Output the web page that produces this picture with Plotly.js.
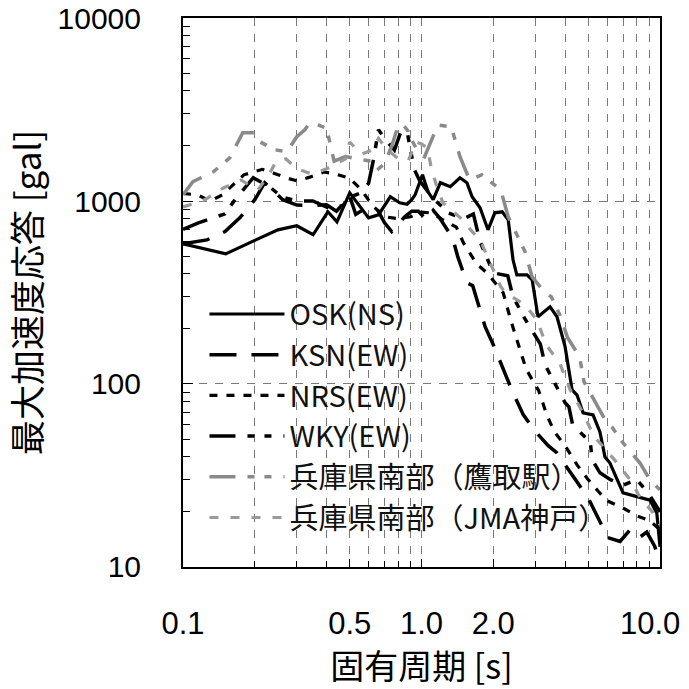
<!DOCTYPE html>
<html>
<head>
<meta charset="utf-8">
<script src="https://cdn.plot.ly/plotly-3.0.1.min.js"></script>
<style>
  html, body { margin: 0; padding: 0; background: #ffffff; }
  #chart { width: 689px; height: 689px; }
</style>
</head>
<body>
<div id="chart"></div>
<script>
// Acceleration response spectra: natural period [s] vs peak response acceleration [gal]

const seriesNames = ['OSK(NS)', 'KSN(EW)', 'NRS(EW)', 'WKY(EW)', '兵庫県南部（鷹取駅）', '兵庫県南部（JMA神戸）'];

const periodOSK = [0.1,0.151,0.202,0.25,0.30,0.351,0.405,0.442,0.50,0.60,0.66,0.74,0.81,0.87,0.91,0.94,1.01,1.065,1.12,1.20,1.32,1.45,1.55,1.63,1.76,1.90,2.03,2.18,2.31,2.42,2.51,2.77,2.91,3.08,3.46,3.70,4.00,4.28,4.49,4.76,5.24,5.60,5.88,6.17,7.0,8.25,9.08,9.7,10];
const accOSK    = [583,514,613,696,732,654,873,770,1109,809,841,1055,977,960,1016,1081,1390,1122,1016,1259,1197,1340,1259,1055,918,696,862,873,789,477,395,395,371,233,264,233,160,93,87,69.5,67.8,54.7,39.9,37,25.4,24.1,23.2,19.7,12.9];

const periodKSN = [0.1,0.126,0.15,0.173,0.2,0.22,0.262,0.30,0.35,0.40,0.44,0.50,0.53,0.58,0.65,0.70,0.75,0.85,0.91,0.97,1.05,1.12,1.19,1.35,1.42,1.55,1.64,1.85,2.0,2.22,2.39,2.67,3.0,3.4,3.7,4.2,4.6,5.0,5.75,6.0,6.8,7.5,8.2,8.8,9.5,10];
const accKSN    = [583,613,680,809,1016,1259,1016,950,945,955,880,1060,845,910,910,760,680,820,880,880,790,890,809,629,495,357,344,205,164,116,93,68,55,46,42,33,28,23.8,16.5,14.5,13.8,16,14.5,15.5,13,10.5];

const periodNRS = [0.1,0.115,0.13,0.146,0.18,0.215,0.24,0.275,0.3,0.34,0.39,0.44,0.5,0.56,0.62,0.7,0.8,0.9,1.0,1.1,1.25,1.4,1.5,1.7,1.9,2.2,2.38,2.55,2.75,3.1,3.35,3.6,4.0,4.5,5.0,5.5,6.0,7.0,8.0,9.0,10];
const accNRS    = [1100,1080,1000,1080,1390,1490,1420,1330,1290,1350,1440,1400,1330,1150,950,820,800,820,870,860,780,720,590,455,400,315,218,163,120,92,68,55,46,36,30,26,23,21,19,18,16];

const periodWKY = [0.1,0.116,0.15,0.165,0.197,0.23,0.26,0.3,0.35,0.42,0.47,0.5,0.55,0.6,0.63,0.66,0.72,0.77,0.82,0.87,0.9,0.93,0.98,1.05,1.15,1.3,1.5,1.65,1.76,2.0,2.3,2.42,2.7,3.08,3.15,3.3,3.7,4.0,4.15,4.3,5.1,5.2,5.6,6.2,7.0,8.0,9.0,10];
const accWKY    = [700,760,851,1016,1340,1200,1050,1000,1000,900,950,1050,1100,1250,1700,2450,2100,1900,2400,2400,1900,1500,1300,1150,1000,860,800,850,600,405,390,300,230,175,165,127,96,79,75,60,48,38.5,32.7,30,28,30,25,20];

const periodTakatori = [0.1,0.11,0.134,0.14,0.157,0.178,0.2,0.21,0.243,0.273,0.30,0.324,0.34,0.37,0.40,0.43,0.48,0.56,0.62,0.66,0.7,0.75,0.8,0.84,0.88,0.92,0.98,1.03,1.17,1.3,1.35,1.45,1.59,1.79,2.15,2.31,2.45,2.72,2.91,3.3,3.5,3.8,4.1,4.6,4.8,5.5,6.0,6.3,7.0,8.25,9.08,10];
const accTakatori    = [1081,1274,1445,1520,1720,2360,2360,2107,1905,1860,2244,2450,2680,2600,2500,1650,1750,1680,1650,1500,1600,2000,2600,2600,2400,2100,1800,1745,2600,2550,2400,1745,1306,1390,1150,820,696,527,385,315,300,239,179,141,103,75,61,58,47.6,37,29.9,26.4];

const periodJMA = [0.1,0.12,0.127,0.147,0.175,0.206,0.23,0.245,0.27,0.3,0.35,0.4,0.48,0.5,0.56,0.62,0.66,0.72,0.8,0.88,0.95,1.0,1.06,1.1,1.16,1.23,1.35,1.49,1.6,1.76,1.94,2.15,2.25,2.53,2.71,3.05,3.33,3.5,3.8,4.2,4.76,5.3,5.6,6.5,7.5,8.25,9.3,10];
const accJMA    = [929,1000,1040,1175,1300,1150,1400,1640,1700,1500,1400,1500,1700,2100,1800,1900,2200,1900,1700,1660,2100,2050,1950,1500,1200,977,880,789,700,613,459,340,315,288,271,224,164,150,130,93,69.5,51.4,47.6,38,30,24,20,17];

// Axis ticks
const xTickVals = [0.1, 0.5, 1, 2, 10];
const xTickText = ['0.1', '0.5', '1.0', '2.0', ''];
const xMinorVals = [0.2,0.3,0.4,0.6,0.7,0.8,0.9,3,4,5,6,7,8,9];
const yTickVals = [10, 100, 1000, 10000];
const yTickText = ['10', '100', '1000', '10000'];
const yMinorVals = [20,30,40,50,60,70,80,90,200,300,400,500,600,700,800,900,2000,3000,4000,5000,6000,7000,8000,9000];

const FONT = '"Noto Sans CJK JP", "Noto Sans", sans-serif';
const NUM_FONT = '"Liberation Sans", Arial, sans-serif';
const BLACK = '#000000';
const GRAY1 = '#8a8a8a';
const GRAY2 = '#9a9a9a';
const DASH_DOT2 = '26px,12px,7px,10px,7px,12px';

const traces = [
  { x: periodOSK, y: accOSK, name: seriesNames[0],
    line: { color: BLACK, width: 3.2, dash: 'solid' } },
  { x: periodKSN, y: accKSN, name: seriesNames[1],
    line: { color: BLACK, width: 3.5, dash: '27px,15px' } },
  { x: periodNRS, y: accNRS, name: seriesNames[2],
    line: { color: BLACK, width: 3.2, dash: '8px,9px' } },
  { x: periodWKY, y: accWKY, name: seriesNames[3],
    line: { color: BLACK, width: 3.5, dash: DASH_DOT2 } },
  { x: periodTakatori, y: accTakatori, name: seriesNames[4],
    line: { color: GRAY1, width: 3.5, dash: DASH_DOT2 } },
  { x: periodJMA, y: accJMA, name: seriesNames[5],
    line: { color: GRAY2, width: 3.2, dash: '9px,12px' } }
].map(t => Object.assign({ type: 'scatter', mode: 'lines', hoverinfo: 'skip' }, t));

const layout = {
  width: 689,
  height: 689,
  margin: { l: 183, r: 29, t: 18, b: 122 },
  paper_bgcolor: '#ffffff',
  plot_bgcolor: '#ffffff',
  font: { family: FONT, color: BLACK },
  showlegend: true,
  legend: {
    x: 0.045, y: 0.507, xanchor: 'left', yanchor: 'top',
    bgcolor: 'rgba(0,0,0,0)',
    borderwidth: 0,
    itemwidth: 75,
    tracegroupgap: 0,
    font: { family: FONT, size: 29, color: '#111111' }
  },
  xaxis: {
    type: 'log',
    range: [-1.0001, 1.0001],
    tickmode: 'array',
    tickvals: xTickVals,
    ticktext: xTickText,
    ticks: 'inside',
    ticklen: 8,
    tickcolor: BLACK,
    ticklabelstandoff: 28,
    tickfont: { family: NUM_FONT, size: 31, color: BLACK },
    showgrid: true,
    gridcolor: '#7a7a7a',
    gridwidth: 1,
    griddash: '8px,8px',
    minor: {
      tickvals: xMinorVals,
      ticks: 'inside',
      ticklen: 6,
      tickcolor: BLACK,
      showgrid: true,
      gridcolor: '#7a7a7a',
      gridwidth: 1,
      griddash: '8px,8px'
    },
    showline: true,
    linecolor: BLACK,
    linewidth: 2,
    mirror: true,
    zeroline: false,
    title: { text: '固有周期 [s]', font: { family: FONT, size: 34, color: BLACK }, standoff: 0 }
  },
  yaxis: {
    type: 'log',
    range: [0.9999, 4.0001],
    tickmode: 'array',
    tickvals: yTickVals,
    ticktext: yTickText,
    ticks: 'inside',
    ticklen: 10,
    tickcolor: BLACK,
    ticklabelstandoff: 34,
    tickfont: { family: NUM_FONT, size: 30, color: BLACK },
    showgrid: true,
    gridcolor: '#7a7a7a',
    gridwidth: 1,
    griddash: '8px,8px',
    minor: {
      tickvals: yMinorVals,
      ticks: 'inside',
      ticklen: 7,
      tickcolor: BLACK,
      showgrid: false
    },
    showline: true,
    linecolor: BLACK,
    linewidth: 2,
    mirror: true,
    zeroline: false,
    title: { text: '最大加速度応答 [gal]', font: { family: FONT, size: 35, color: BLACK }, standoff: 16 }
  },
  shapes: [
    // white panel behind the legend: hides the grid but not the curves
    { type: 'rect', xref: 'paper', yref: 'paper', x0: 0.015, x1: 0.904, y0: 0.049, y1: 0.51,
      fillcolor: '#ffffff', line: { width: 0 }, layer: 'between' }
  ],
  annotations: [
    // last x tick label, kept inside the figure
    { xref: 'paper', yref: 'paper', x: 1, y: 0, xshift: -10, yshift: -37,
      xanchor: 'center', yanchor: 'top', showarrow: false, text: '10.0',
      font: { family: NUM_FONT, size: 31, color: BLACK } }
  ]
};

Plotly.newPlot('chart', traces, layout, { displayModeBar: false, staticPlot: true });
</script>
</body>
</html>
